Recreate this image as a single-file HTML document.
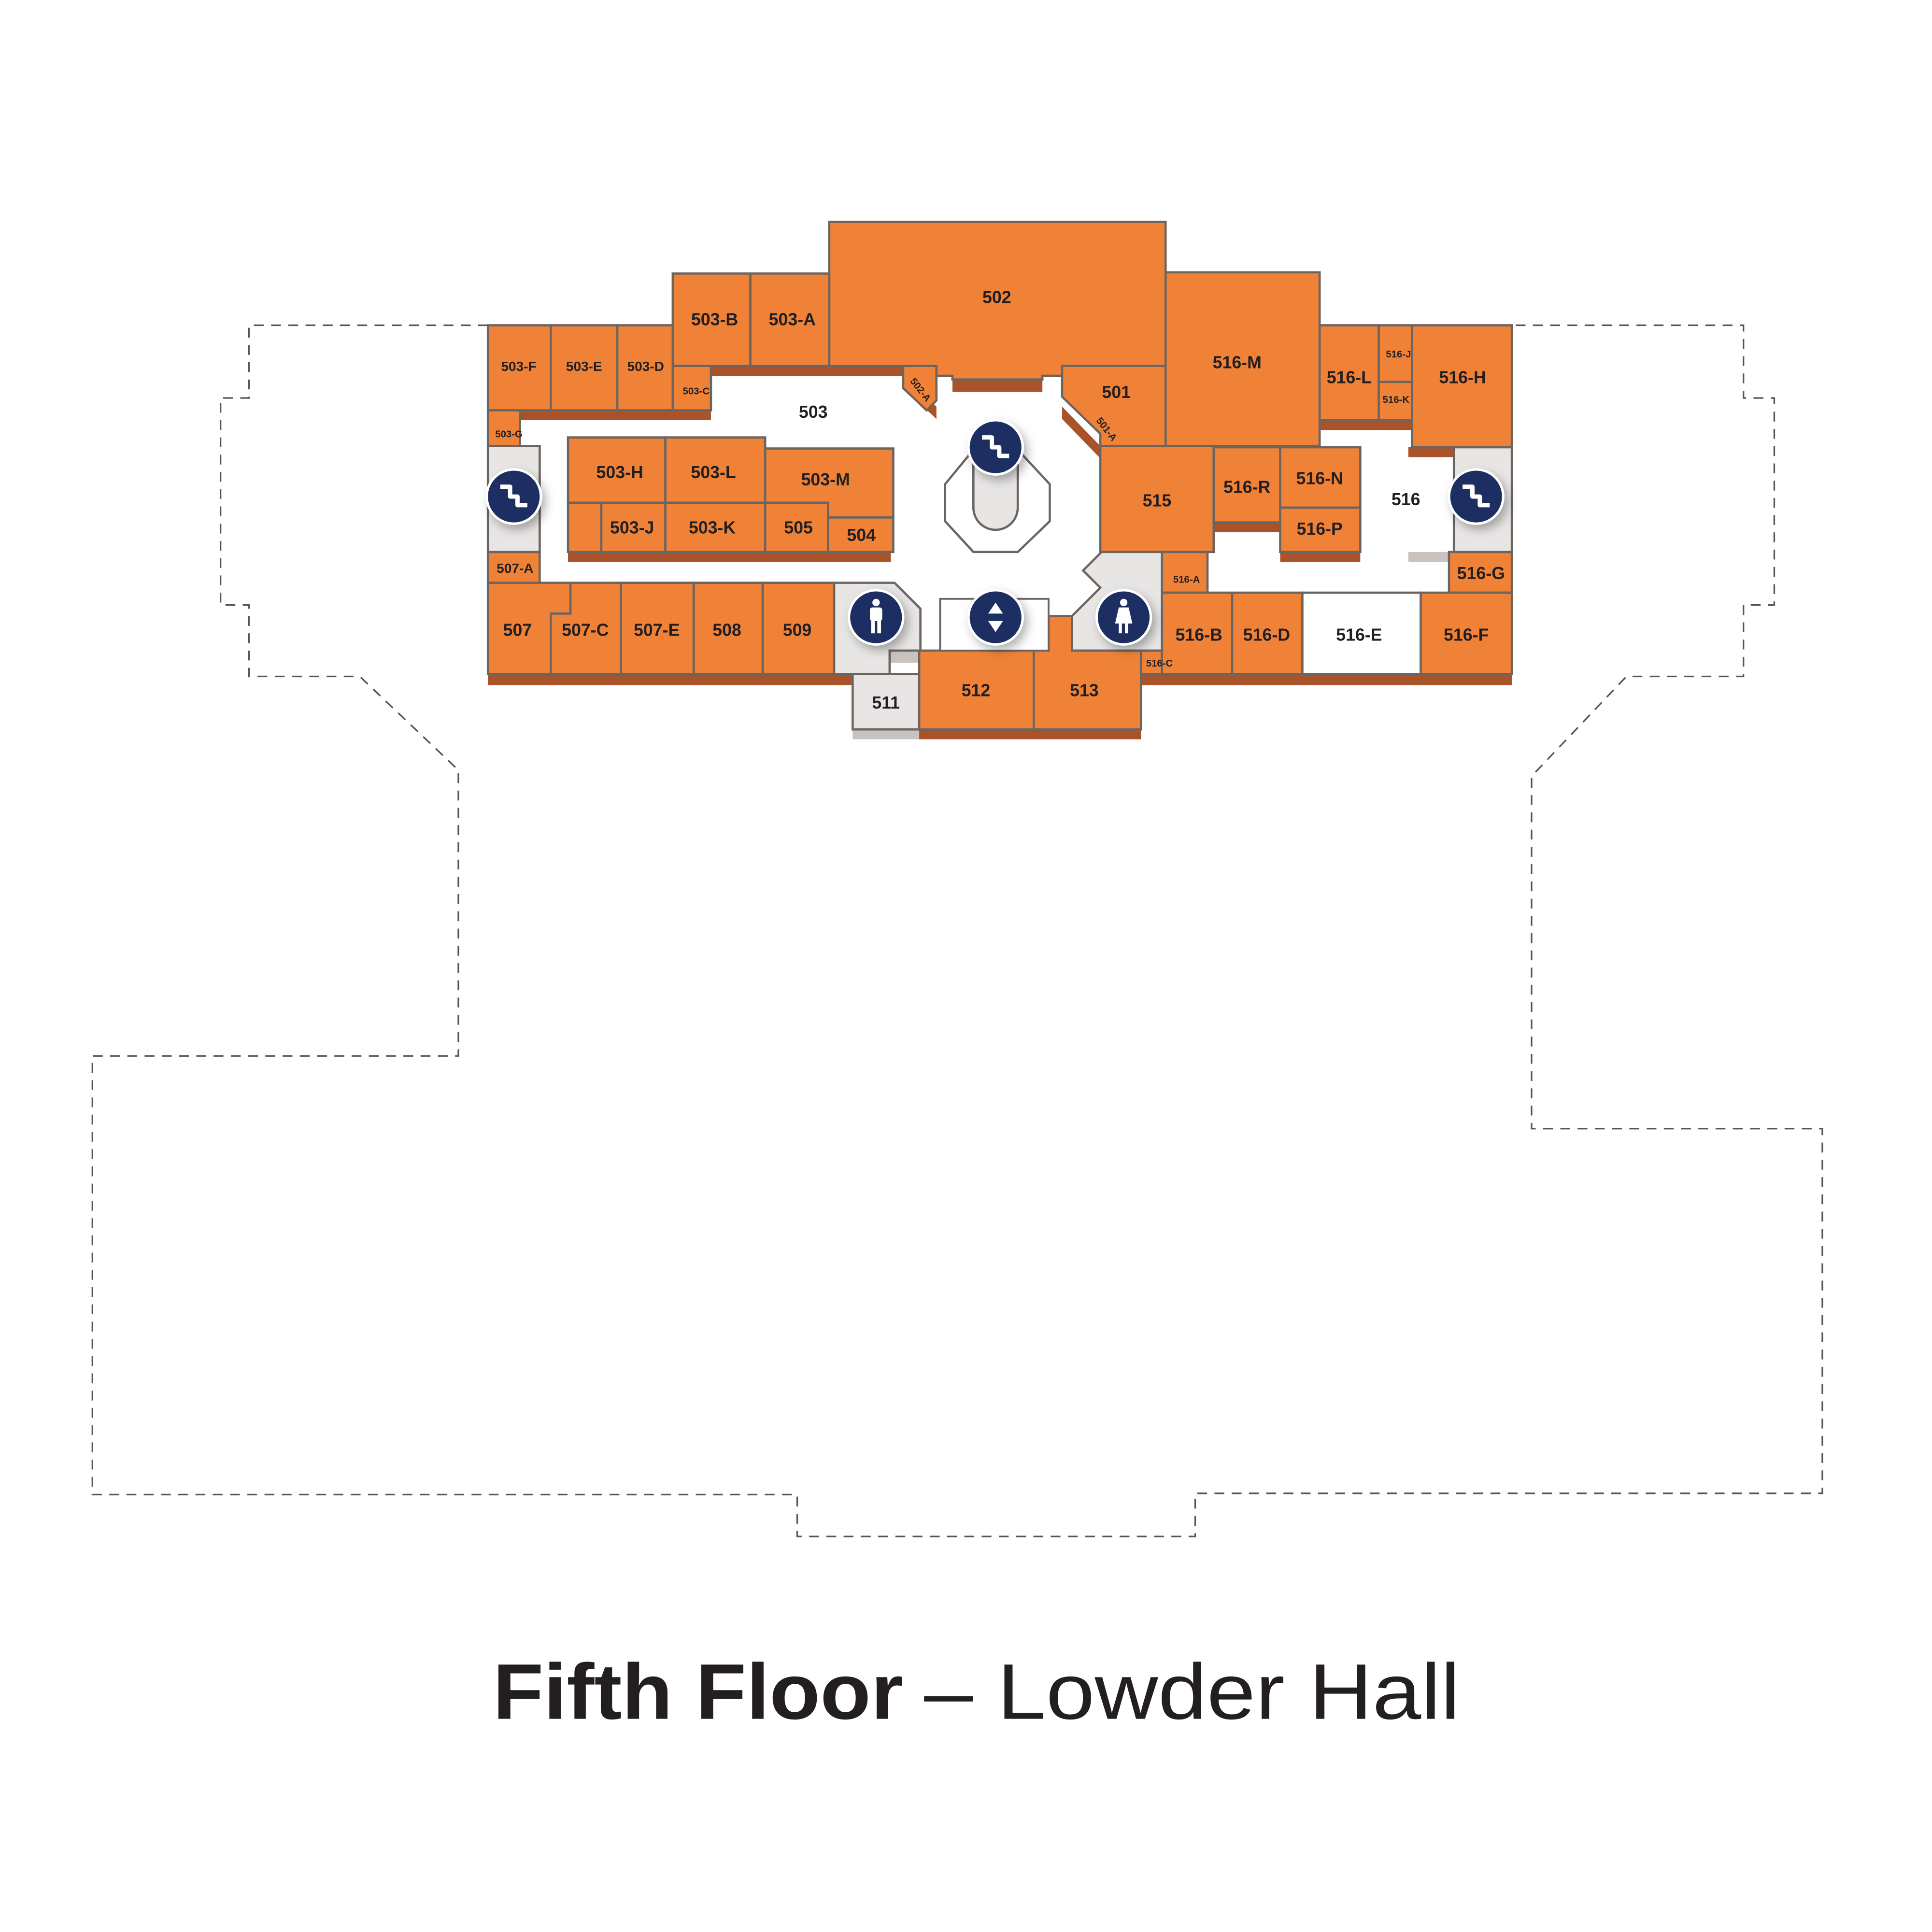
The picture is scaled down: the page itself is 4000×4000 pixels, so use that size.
<!DOCTYPE html>
<html><head><meta charset="utf-8"><style>
html,body{margin:0;padding:0;background:#fff;}
svg{display:block;}
text{font-family:"Liberation Sans",sans-serif;fill:#231f20;font-weight:bold;}
</style></head><body>
<svg width="4000" height="4000" viewBox="0 0 1568 1568" xmlns="http://www.w3.org/2000/svg">
<defs>
<filter id="sh" x="-50%" y="-50%" width="200%" height="200%"><feDropShadow dx="3" dy="4" stdDeviation="4" flood-color="#000" flood-opacity="0.3"/></filter>
</defs>
<polyline fill="none" stroke="#555" stroke-width="1.3" stroke-dasharray="8,6" points="396,264 202,264 202,323 179,323 179,491 202,491 202,549 292,549 372,625 372,857 75,857 75,1213 647,1213 647,1247 970,1247 970,1212 1479,1212 1479,916 1243,916 1243,630 1320,549 1415,549 1415,491 1440,491 1440,323 1415,323 1415,264 1227,264"/>

<g stroke="#6b6461" stroke-width="1.8">
<g fill="#a9532a" stroke="none">
<rect x="422" y="333" width="155" height="8"/>
<rect x="577" y="297" width="156" height="8"/>
<rect x="773" y="308" width="73" height="10"/>
<rect x="461" y="448" width="262" height="8"/>
<rect x="396" y="547" width="364" height="9"/>
<rect x="746" y="592" width="180" height="8"/>
<rect x="926" y="547" width="301" height="9"/>
<rect x="1071" y="341" width="75" height="8"/>
<rect x="1143" y="363" width="37" height="8"/>
<rect x="985" y="424" width="54" height="8"/>
<rect x="1039" y="448" width="65" height="8"/>
<polygon points="733,305 760,330 760,340 733,315"/>
<polygon points="862,330 893,362 893,372 862,340"/>
</g>
<g fill="#c9c3c0" stroke="none">
<rect x="692" y="592" width="54" height="8"/>
<rect x="1143" y="448" width="33" height="8"/>
<rect x="722" y="528" width="26" height="10"/>
</g>
<g fill="#ef8237">
<polygon points="673,180 946,180 946,297 870,297 862,305 846,305 846,308 773,308 773,305 760,305 760,297 673,297"/>
<rect x="546" y="222" width="63" height="75"/>
<rect x="609" y="222" width="64" height="75"/>
<polygon points="733,297 760,297 760,325 752,333 733,315"/>
<rect x="396" y="264" width="51" height="69"/>
<rect x="447" y="264" width="54" height="69"/>
<rect x="501" y="264" width="45" height="69"/>
<rect x="546" y="297" width="31" height="36"/>
<rect x="396" y="333" width="26" height="29"/>
<rect x="396" y="448" width="42" height="25"/>
<rect x="461" y="355" width="79" height="53"/>
<rect x="540" y="355" width="81" height="53"/>
<polygon points="621,364 725,364 725,420 672,420 672,408 621,408"/>
<rect x="461" y="408" width="27" height="40"/>
<rect x="488" y="408" width="52" height="40"/>
<rect x="540" y="408" width="81" height="40"/>
<rect x="621" y="408" width="51" height="40"/>
<rect x="672" y="420" width="53" height="28"/>
<polygon points="396,473 463,473 463,498 447,498 447,547 396,547"/>
<polygon points="463,473 504,473 504,547 447,547 447,498 463,498"/>
<rect x="504" y="473" width="59" height="74"/>
<rect x="563" y="473" width="56" height="74"/>
<rect x="619" y="473" width="58" height="74"/>
<rect x="746" y="528" width="93" height="64"/>
<polygon points="851,500 870,500 870,528 926,528 926,592 839,592 839,528 851,528"/>
<polygon points="862,297 946,297 946,362 893,362 893,352 862,322"/>
<polygon points="946,221 1071,221 1071,362 946,362"/>
<rect x="893" y="362" width="92" height="86"/>
<rect x="1071" y="264" width="48" height="77"/>
<rect x="1119" y="264" width="27" height="46"/>
<rect x="1119" y="310" width="27" height="31"/>
<rect x="1146" y="264" width="81" height="99"/>
<rect x="985" y="363" width="54" height="61"/>
<rect x="1039" y="363" width="65" height="49"/>
<rect x="1039" y="412" width="65" height="36"/>
<rect x="943" y="448" width="37" height="33"/>
<rect x="1176" y="448" width="51" height="33"/>
<rect x="943" y="481" width="57" height="66"/>
<rect x="1000" y="481" width="57" height="66"/>
<rect x="1153" y="481" width="74" height="66"/>
<rect x="926" y="528" width="17" height="19"/>
</g>
<rect x="1057" y="481" width="96" height="66" fill="#fff"/>
<g fill="#e8e6e5">
<rect x="396" y="362" width="42" height="86"/>
<rect x="1180" y="363" width="47" height="85"/>
<polygon points="677,473 726,473 747,494 747,528 722,528 722,547 677,547"/>
<polygon points="943,448 943,528 870,528 870,500 893,477 879,463 894,448"/>
<rect x="692" y="547" width="54" height="45"/>
</g>
<polygon points="790,365 826,365 852,393 852,423 826,448 790,448 767,423 767,393" fill="#fff"/>
<path d="M790,375 L790,412 A18,18 0 0 0 826,412 L826,375" fill="#e8e6e5"/>
<rect x="763" y="486" width="88" height="42" fill="#fff" stroke-width="1.5"/>
</g>
<g filter="url(#sh)" stroke="#fff" stroke-width="2" fill="#1f2f62">
<circle cx="808" cy="363" r="22"/>
<circle cx="417" cy="403" r="22"/>
<circle cx="1198" cy="403" r="22"/>
<circle cx="808" cy="501" r="22"/>
<circle cx="711" cy="501" r="22"/>
<circle cx="912" cy="501" r="22"/>
</g>
<g fill="none" stroke="#fff" stroke-width="3.5" stroke-linejoin="round">
<polyline points="797,355 805,355 805,363 811,363 811,370 819,370"/>
<polyline points="406,395 414,395 414,403 420,403 420,410 428,410"/>
<polyline points="1187,395 1195,395 1195,403 1201,403 1201,410 1209,410"/>
</g>
<g fill="#fff">
<polygon points="808,489 802,498 814,498"/><polygon points="808,513 802,504 814,504"/>
<circle cx="711" cy="489" r="3"/><rect x="706" y="493" width="10" height="11" rx="2"/><rect x="707" y="502" width="3" height="12"/><rect x="712" y="502" width="3" height="12"/>
<circle cx="912" cy="489" r="3"/><polygon points="908,493 916,493 919,506 905,506"/><rect x="908" y="505" width="2.5" height="9"/><rect x="913" y="505" width="2.5" height="9"/>
</g>
<g font-size="14" text-anchor="middle">
<text x="809" y="246">502</text>
<text x="580" y="264">503-B</text><text x="643" y="264">503-A</text>
<text x="660" y="339">503</text>
<text x="906" y="323">501</text>
<text x="503" y="388">503-H</text><text x="579" y="388">503-L</text><text x="670" y="394">503-M</text>
<text x="513" y="433">503-J</text><text x="578" y="433">503-K</text><text x="648" y="433">505</text><text x="699" y="439">504</text>
<text x="420" y="516">507</text><text x="475" y="516">507-C</text><text x="533" y="516">507-E</text><text x="590" y="516">508</text><text x="647" y="516">509</text>
<text x="719" y="575">511</text><text x="792" y="565">512</text><text x="880" y="565">513</text>
<text x="939" y="411">515</text><text x="1004" y="299">516-M</text>
<text x="1095" y="311">516-L</text><text x="1187" y="311">516-H</text>
<text x="1012" y="400">516-R</text><text x="1071" y="393">516-N</text><text x="1071" y="434">516-P</text>
<text x="1141" y="410">516</text><text x="1202" y="470">516-G</text>
<text x="973" y="520">516-B</text><text x="1028" y="520">516-D</text><text x="1103" y="520">516-E</text><text x="1190" y="520">516-F</text>
</g>
<g font-size="11" text-anchor="middle">
<text x="421" y="301">503-F</text><text x="474" y="301">503-E</text><text x="524" y="301">503-D</text>
<text x="418" y="465">507-A</text>
</g>
<g font-size="8" text-anchor="middle">
<text x="565" y="320">503-C</text><text x="413" y="355">503-G</text>
<text x="1135" y="290">516-J</text><text x="1133" y="327">516-K</text>
<text x="963" y="473">516-A</text><text x="941" y="541">516-C</text>
<text x="745" y="318" transform="rotate(52 745 318)">502-A</text>
<text x="896" y="350" transform="rotate(52 896 350)">501-A</text>
</g>
<text x="400" y="1395" font-size="64" textLength="333" lengthAdjust="spacingAndGlyphs">Fifth Floor</text>
<text x="750" y="1395" font-size="64" textLength="435" lengthAdjust="spacingAndGlyphs" style="font-weight:normal">– Lowder Hall</text>
</svg>
</body></html>
